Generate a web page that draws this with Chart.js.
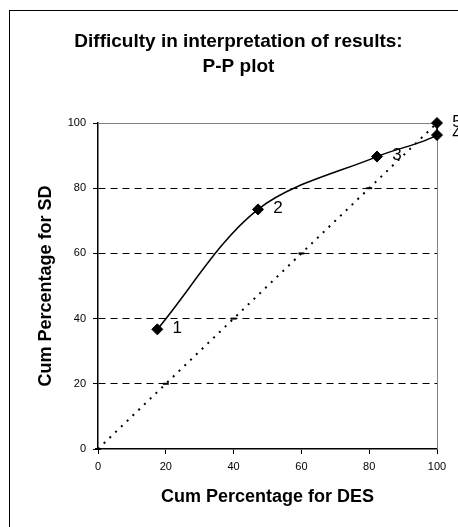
<!DOCTYPE html>
<html>
<head>
<meta charset="utf-8">
<script src="https://cdn.jsdelivr.net/npm/chart.js@4.4.1/dist/chart.umd.min.js"></script>
<style>
  html, body { margin: 0; padding: 0; background: #fff; }
  canvas { display: block; }
</style>
</head>
<body>
<canvas id="chart" width="458" height="527"></canvas>
<script>
// P-P plot data
const desPercent = [17.5, 47.2, 82.3, 100, 100];
const sdPercent = [36.7, 73.5, 89.7, 96.3, 100];
const pointLabels = ['1', '2', '3', '4', '5'];
const refPercent = [0, 20, 40, 60, 80, 100];
const tickStep = 20;

const titleLines = ['Difficulty in interpretation of results:', 'P-P plot'];
const xTitle = 'Cum Percentage for DES';
const yTitle = 'Cum Percentage for SD';

const FONT = '"Liberation Sans", Arial, sans-serif';

const sdPoints = desPercent.map((x, i) => ({ x: x, y: sdPercent[i] }));
const refPoints = refPercent.map(v => ({ x: v, y: v }));

const decorations = {
    id: 'decorations',
    beforeDraw(chart) {
        const ctx = chart.ctx;
        // outer frame (only left and top fall inside the picture)
        ctx.save();
        ctx.strokeStyle = '#000';
        ctx.lineWidth = 1;
        ctx.strokeRect(9.5, 10.5, 600, 600);
        ctx.restore();
    },
    beforeDatasetsDraw(chart) {
        const ctx = chart.ctx;
        const a = chart.chartArea;
        // grey top and right plot edges
        ctx.save();
        ctx.strokeStyle = '#808080';
        ctx.lineWidth = 1;
        ctx.beginPath();
        ctx.moveTo(a.left, a.top + 0.5);
        ctx.lineTo(a.right + 0.5, a.top + 0.5);
        ctx.lineTo(a.right + 0.5, a.bottom);
        ctx.stroke();
        ctx.restore();

        // title
        ctx.save();
        ctx.fillStyle = '#000';
        ctx.font = 'bold 19px ' + FONT;
        ctx.textAlign = 'center';
        ctx.textBaseline = 'alphabetic';
        ctx.fillText(titleLines[0], 238.5, 47);
        ctx.fillText(titleLines[1], 238.5, 72);
        ctx.restore();
    },
    afterDatasetsDraw(chart) {
        const ctx = chart.ctx;
        const meta = chart.getDatasetMeta(1);
        ctx.save();
        ctx.fillStyle = '#000';
        ctx.font = '17px ' + FONT;
        ctx.textAlign = 'center';
        ctx.textBaseline = 'middle';
        meta.data.forEach((pt, i) => {
            ctx.fillText(pointLabels[i], pt.x + 20, pt.y - 1);
        });
        ctx.restore();
    }
};

new Chart(document.getElementById('chart').getContext('2d'), {
    type: 'scatter',
    data: {
        datasets: [
            {
                label: 'Reference',
                data: refPoints,
                showLine: true,
                clip: false,
                borderColor: '#000',
                borderWidth: 2,
                borderDash: [2, 6],
                pointStyle: 'line',
                pointRadius: 3,
                pointBorderWidth: 2,
                pointBorderColor: '#000',
                order: 2
            },
            {
                label: 'SD vs DES',
                data: sdPoints,
                showLine: true,
                clip: false,
                borderColor: '#000',
                borderWidth: 1.5,
                tension: 0.33,
                pointStyle: 'rectRot',
                pointRadius: 5.5,
                pointBackgroundColor: '#000',
                pointBorderColor: '#000',
                pointBorderWidth: 1,
                order: 1
            }
        ]
    },
    options: {
        responsive: false,
        devicePixelRatio: 1,
        animation: false,
        layout: { padding: { top: 123, right: 21, bottom: 0, left: 0 } },
        plugins: {
            legend: { display: false },
            title: { display: false },
            tooltip: { enabled: false }
        },
        scales: {
            x: {
                type: 'linear',
                min: 0,
                max: 100,
                afterFit(scale) { scale.height = 78; },
                ticks: {
                    stepSize: tickStep,
                    color: '#000',
                    padding: 6,
                    font: { family: FONT, size: 11 }
                },
                grid: {
                    drawOnChartArea: false,
                    tickLength: 5,
                    tickColor: '#000'
                },
                border: { color: '#000', width: 1.5 },
                title: {
                    display: true,
                    text: xTitle,
                    color: '#000',
                    font: { family: FONT, size: 18, weight: 'bold' },
                    padding: { top: 0, bottom: 19 }
                }
            },
            y: {
                type: 'linear',
                min: 0,
                max: 100,
                afterFit(scale) { scale.width = 98; },
                ticks: {
                    stepSize: tickStep,
                    color: '#000',
                    padding: 7,
                    font: { family: FONT, size: 11 }
                },
                grid: {
                    color: c => (c.tick && (c.tick.value === 0 || c.tick.value === 100)) ? 'rgba(0,0,0,0)' : '#000',
                    lineWidth: 1,
                    tickLength: 5,
                    tickColor: '#000'
                },
                border: { color: '#000', width: 1.5, dash: [7, 5] },
                title: {
                    display: true,
                    text: yTitle,
                    color: '#000',
                    font: { family: FONT, size: 18, weight: 'bold' },
                    padding: { top: 35, bottom: 0 }
                }
            }
        }
    },
    plugins: [decorations]
});
</script>
</body>
</html>
